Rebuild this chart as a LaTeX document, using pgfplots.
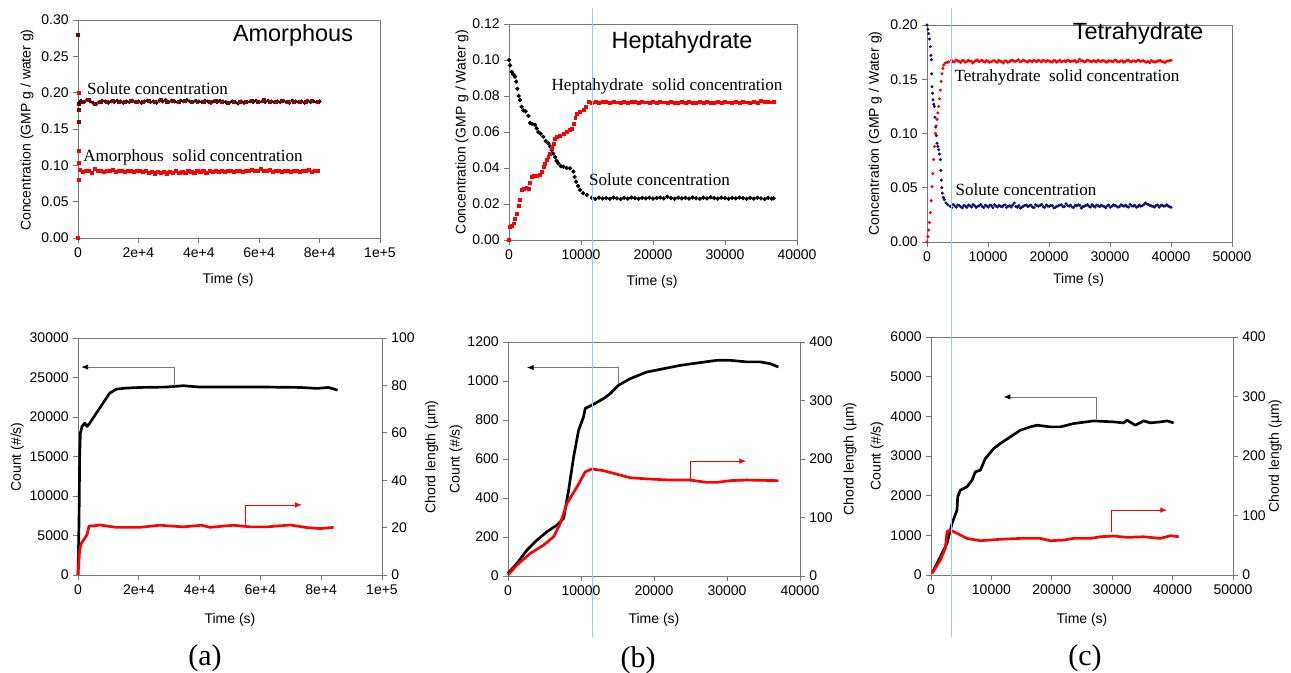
\documentclass[border=0pt]{standalone}
\usepackage{fontspec}
\setmainfont{Liberation Sans}
\newfontfamily\serifont{Liberation Serif}
\usepackage{pgfplots}
\pgfplotsset{compat=1.18}
\usetikzlibrary{arrows.meta}
\definecolor{axgray}{RGB}{120,120,120}
\definecolor{vblue}{RGB}{160,198,232}
\definecolor{navy}{RGB}{20,20,110}
\definecolor{dred}{RGB}{140,0,0}
\pgfplotsset{
  base/.style={
    scale only axis, anchor=south west, clip=false,
    axis line style={axgray, line width=0.6pt},
    tick style={axgray, line width=0.6pt},
    tick align=outside, major tick length=3.5pt,
    ticklabel style={font=\fontsize{10.5}{12}\selectfont},
    label style={font=\fontsize{10.5}{12}\selectfont},
    /pgf/number format/assume math mode=true,
    /pgf/number format/set thousands separator={},
    scaled ticks=false,
  },
  y2dec/.style={y tick label style={/pgf/number format/fixed,/pgf/number format/fixed zerofill,/pgf/number format/precision=2}},
}
\begin{document}
\begin{tikzpicture}
\useasboundingbox (0,0) rectangle (968.25pt,504.75pt);
% ---------------- (a) top ----------------
\begin{axis}[base, y2dec, at={(58.5pt,326.25pt)}, width=226.5pt, height=163.5pt, tick pos=left,
  xmin=0,xmax=100000, ymin=0,ymax=0.30,
  xtick={0,20000,40000,60000,80000,100000}, xticklabels={0,2e+4,4e+4,6e+4,8e+4,1e+5},
  ytick={0,0.05,0.10,0.15,0.20,0.25,0.30},
  xlabel={Time (s)}, ylabel={Concentration (GMP g / water g)},
  xlabel style={at={(axis description cs:0.497,-0.193)},anchor=center},
  ylabel style={at={(axis description cs:-0.169,0.495)},anchor=center}]
\addplot[only marks, mark=square*, mark size=1.1pt, red] coordinates {(0,0.0)(200,0.08)(300,0.104)(100,0.12)(300,0.20)};
\addplot[only marks, mark=square*, mark size=1.1pt, dred] coordinates {(0,0.28)(200,0.185)(300,0.177)(400,0.16)};
\addplot[only marks, mark=*, mark size=1.3pt, black] coordinates {
(500,0.186)(1000,0.189)(2000,0.187)(3000,0.190)(4000,0.188)(5000,0.186)(6000,0.184)(7000,0.187)(8000,0.189)(9000,0.188)(10000,0.186)
(11000,0.188)(12000,0.187)(13000,0.189)(14000,0.188)(15000,0.186)(16000,0.188)(17000,0.187)(18000,0.189)(19000,0.187)(20000,0.188)
(21000,0.186)(22000,0.188)(23000,0.189)(24000,0.187)(25000,0.188)(26000,0.186)(27000,0.189)(28000,0.188)(29000,0.190)(30000,0.187)
(31000,0.189)(32000,0.188)(33000,0.187)(34000,0.189)(35000,0.188)(36000,0.190)(37000,0.188)(38000,0.187)(39000,0.189)(40000,0.188)
(41000,0.187)(42000,0.189)(43000,0.188)(44000,0.186)(45000,0.188)(46000,0.187)(47000,0.189)(48000,0.188)(49000,0.187)(50000,0.186)
(51000,0.188)(52000,0.187)(53000,0.185)(54000,0.188)(55000,0.186)(56000,0.187)(57000,0.188)(58000,0.187)(59000,0.189)(60000,0.187)
(61000,0.188)(62000,0.187)(63000,0.189)(64000,0.188)(65000,0.187)(66000,0.188)(67000,0.187)(68000,0.189)(69000,0.187)(70000,0.186)
(71000,0.189)(72000,0.188)(73000,0.187)(74000,0.188)(75000,0.186)(76000,0.189)(77000,0.187)(78000,0.188)(79000,0.187)(80000,0.188)};
\addplot[only marks, mark=square*, mark size=1.1pt, dred] coordinates {
(1500,0.188)(3500,0.190)(5500,0.185)(7500,0.188)(9500,0.187)(11500,0.189)(13500,0.188)(15500,0.187)(17500,0.189)(19500,0.188)
(21500,0.187)(23500,0.189)(25500,0.188)(27500,0.190)(29500,0.188)(31500,0.189)(33500,0.187)(35500,0.189)(37500,0.188)(39500,0.187)
(41500,0.188)(43500,0.187)(45500,0.189)(47500,0.188)(49500,0.186)(51500,0.188)(53500,0.187)(55500,0.188)(57500,0.189)(59500,0.187)
(61500,0.190)(63500,0.188)(65500,0.187)(67500,0.189)(69500,0.188)(71500,0.187)(73500,0.188)(75500,0.187)(77500,0.189)(79500,0.187)};
\addplot[only marks, mark=square*, mark size=1.2pt, red] coordinates {
(500,0.094)(1500,0.091)(2500,0.093)(3500,0.092)(4500,0.090)(5500,0.095)(6500,0.093)(7500,0.092)(8500,0.091)(9500,0.093)
(10500,0.092)(11500,0.094)(12500,0.091)(13500,0.092)(14500,0.093)(15500,0.091)(16500,0.092)(17500,0.093)(18500,0.091)(19500,0.092)
(20500,0.093)(21500,0.091)(22500,0.092)(23500,0.090)(24500,0.091)(25500,0.089)(26500,0.091)(27500,0.090)(28500,0.091)(29500,0.089)
(30500,0.091)(31500,0.090)(32500,0.092)(33500,0.090)(34500,0.091)(35500,0.090)(36500,0.092)(37500,0.091)(38500,0.090)(39500,0.092)
(40500,0.091)(41500,0.092)(42500,0.090)(43500,0.092)(44500,0.091)(45500,0.093)(46500,0.091)(47500,0.092)(48500,0.091)(49500,0.093)
(50500,0.092)(51500,0.091)(52500,0.093)(53500,0.092)(54500,0.091)(55500,0.093)(56500,0.092)(57500,0.094)(58500,0.092)(59500,0.093)
(60500,0.095)(61500,0.093)(62500,0.092)(63500,0.094)(64500,0.091)(65500,0.093)(66500,0.092)(67500,0.091)(68500,0.093)(69500,0.092)
(70500,0.091)(71500,0.093)(72500,0.092)(73500,0.091)(74500,0.093)(75500,0.092)(76500,0.094)(77500,0.091)(78500,0.093)(79500,0.092)};
\end{axis}
% ---------------- (b) top ----------------
\begin{axis}[base, y2dec, at={(381.75pt,324.75pt)}, width=216pt, height=162pt, tick pos=left,
  xmin=0,xmax=40000, ymin=0,ymax=0.12,
  xtick={0,10000,20000,30000,40000},
  ytick={0,0.02,0.04,0.06,0.08,0.10,0.12},
  xlabel={Time (s)}, ylabel={Concentration (GMP g / Water g)},
  xlabel style={at={(axis description cs:0.497,-0.194)},anchor=center},
  ylabel style={at={(axis description cs:-0.163,0.5)},anchor=center}]
\addplot[only marks, mark=*, mark size=1.4pt, black] coordinates {
(0,0.100)(150,0.097)(370,0.0934)(600,0.092)(834,0.0907)(1000,0.088)(1160,0.084)(1350,0.080)(1530,0.0777)(1750,0.074)(2000,0.072)
(2300,0.0715)(2690,0.069)(2920,0.065)(3200,0.0645)(3615,0.064)(3850,0.062)(4080,0.060)(4400,0.059)(4770,0.0573)(5100,0.055)
(5470,0.0537)(5700,0.052)(5930,0.050)(6150,0.048)(6400,0.046)(6600,0.044)(6860,0.0426)(7200,0.041)(7555,0.0407)(8000,0.040)
(8480,0.0398)(8945,0.038)(9100,0.035)(9320,0.0324)(9600,0.030)(9870,0.0278)(10300,0.026)(10800,0.025)(11500,0.0235)
(12000,0.0228)(12500,0.0235)(13000,0.0230)(13500,0.0233)(14000,0.0229)(14500,0.0236)(15000,0.0231)(15500,0.0228)(16000,0.0234)(16500,0.0230)
(17000,0.0236)(17500,0.0232)(18000,0.0229)(18500,0.0234)(19000,0.0231)(19500,0.0235)(20000,0.0230)(20500,0.0233)(21000,0.0236)(21500,0.0231)
(22000,0.0240)(22500,0.0233)(23000,0.0229)(23500,0.0235)(24000,0.0231)(24500,0.0234)(25000,0.0230)(25500,0.0236)(26000,0.0232)(26500,0.0229)
(27000,0.0235)(27500,0.0231)(28000,0.0237)(28500,0.0233)(29000,0.0230)(29500,0.0235)(30000,0.0232)(30500,0.0229)(31000,0.0234)(31500,0.0231)
(32000,0.0236)(32500,0.0232)(33000,0.0229)(33500,0.0234)(34000,0.0230)(34500,0.0235)(35000,0.0231)(35500,0.0228)(36000,0.0234)(36500,0.0230)(36750,0.0232)};
\addplot[only marks, mark=square*, mark size=1.1pt, red] coordinates {
(0,0)(140,0.0074)(350,0.008)(600,0.0093)(850,0.012)(1070,0.0148)(1300,0.019)(1530,0.0222)(1760,0.0278)(2100,0.0283)(2400,0.029)
(2690,0.0287)(2920,0.032)(3150,0.0352)(3500,0.0355)(3900,0.0358)(4310,0.036)(4550,0.038)(4770,0.0407)(5000,0.0425)(5240,0.0444)
(5450,0.046)(5700,0.048)(5950,0.051)(6170,0.0537)(6400,0.056)(6630,0.0574)(7100,0.058)(7555,0.0592)(8000,0.060)(8480,0.061)
(8700,0.062)(8945,0.0648)(9200,0.068)(9410,0.0703)(9800,0.071)(10340,0.0722)(10700,0.074)(11030,0.0768)
(11500,0.0762)(12000,0.0768)(12500,0.0764)(13000,0.0770)(13500,0.0766)(14000,0.0763)(14500,0.0769)(15000,0.0765)(15500,0.0761)(16000,0.0767)
(16500,0.0764)(17000,0.0770)(17500,0.0766)(18000,0.0762)(18500,0.0768)(19000,0.0765)(19500,0.0760)(20000,0.0767)(20500,0.0763)(21000,0.0769)
(21500,0.0765)(22000,0.0762)(22500,0.0768)(23000,0.0764)(23500,0.0760)(24000,0.0766)(24500,0.0763)(25000,0.0769)(25500,0.0764)(26000,0.0761)
(26500,0.0767)(27000,0.0763)(27500,0.0768)(28000,0.0764)(28500,0.0761)(29000,0.0766)(29500,0.0763)(30000,0.0769)(30500,0.0765)(31000,0.0762)
(31500,0.0767)(32000,0.0764)(32500,0.0770)(33000,0.0765)(33500,0.0762)(34000,0.0768)(34500,0.0764)(35000,0.0771)(35500,0.0766)(36000,0.0769)(36500,0.0765)(36750,0.0768)};
\end{axis}
% ---------------- (c) top ----------------
\begin{axis}[base, y2dec, at={(695.25pt,323.25pt)}, width=228.75pt, height=162.75pt, tick pos=left,
  xmin=0,xmax=50000, ymin=0,ymax=0.20,
  xtick={0,10000,20000,30000,40000,50000},
  ytick={0,0.05,0.10,0.15,0.20},
  xlabel={Time (s)}, ylabel={Concentration (GMP g / Water g)},
  xlabel style={at={(axis description cs:0.497,-0.175)},anchor=center},
  ylabel style={at={(axis description cs:-0.170,0.5)},anchor=center}]
\addplot[only marks, mark=*, mark size=0.95pt, navy] coordinates {
(0,0.200)(150,0.196)(270,0.192)(400,0.187)(546,0.180)(650,0.172)(710,0.168)(780,0.155)(820,0.143)(900,0.137)(980,0.131)
(1100,0.127)(1200,0.125)(1300,0.115)(1420,0.106)(1530,0.098)(1640,0.091)(1780,0.088)(1910,0.085)(2050,0.081)(2190,0.076)
(2270,0.066)(2350,0.057)(2430,0.050)(2510,0.045)(2650,0.041)(2840,0.039)(3100,0.036)(3390,0.0344)
(3800,0.0330)(4300,0.0345)(4800,0.0320)(5300,0.0335)(5800,0.0315)(6300,0.0330)(6800,0.0340)(7300,0.0322)(7800,0.0336)(8300,0.0328)
(8800,0.0345)(9300,0.0318)(9800,0.0332)(10300,0.0340)(10800,0.0316)(11300,0.0331)(11800,0.0338)(12300,0.0324)(12800,0.0342)(13300,0.0330)
(13800,0.0322)(14300,0.0360)(14800,0.0320)(15300,0.0312)(15800,0.0330)(16300,0.0341)(16800,0.0334)(17300,0.0322)(17800,0.0343)(18300,0.0330)
(18800,0.0346)(19300,0.0320)(19800,0.0331)(20300,0.0336)(20800,0.0314)(21300,0.0330)(21800,0.0340)(22300,0.0325)(22800,0.0352)(23300,0.0330)
(23800,0.0321)(24300,0.0337)(24800,0.0342)(25300,0.0312)(25800,0.0330)(26300,0.0345)(26800,0.0322)(27300,0.0331)(27800,0.0340)(28300,0.0326)
(28800,0.0332)(29300,0.0316)(29800,0.0340)(30300,0.0330)(30800,0.0336)(31300,0.0321)(31800,0.0342)(32300,0.0330)(32800,0.0325)(33300,0.0346)
(33800,0.0331)(34300,0.0320)(34800,0.0340)(35300,0.0335)(35800,0.0360)(36300,0.0345)(36800,0.0332)(37300,0.0322)(37800,0.0341)(38300,0.0335)
(38800,0.0330)(39300,0.0342)(39800,0.0325)(40000,0.0320)
(4050,0.0318)(4550,0.0333)(5050,0.0341)(5550,0.0324)(6050,0.0337)(6550,0.0319)(7050,0.0333)(7550,0.0344)(8050,0.0320)(8550,0.0334)
(9050,0.0327)(9550,0.0339)(10050,0.0321)(10550,0.0335)(11050,0.0344)(11550,0.0323)(12050,0.0330)(12550,0.0337)(13050,0.0318)(13550,0.0334)
(14050,0.0341)(14550,0.0328)(15050,0.0335)(15550,0.0321)(16050,0.0337)(16550,0.0326)(17050,0.0340)(17550,0.0317)(18050,0.0333)(18550,0.0338)
(19050,0.0324)(19550,0.0342)(20050,0.0329)(20550,0.0336)(21050,0.0320)(21550,0.0334)(22050,0.0343)(22550,0.0327)(23050,0.0335)(23550,0.0340)
(24050,0.0319)(24550,0.0333)(25050,0.0338)(25550,0.0325)(26050,0.0336)(26550,0.0330)(27050,0.0344)(27550,0.0321)(28050,0.0334)(28550,0.0339)
(29050,0.0327)(29550,0.0335)(30050,0.0320)(30550,0.0342)(31050,0.0331)(31550,0.0326)(32050,0.0337)(32550,0.0340)(33050,0.0322)(33550,0.0333)
(34050,0.0338)(34550,0.0326)(35050,0.0330)(35550,0.0344)(36050,0.0350)(36550,0.0337)(37050,0.0328)(37550,0.0336)(38050,0.0321)(38550,0.0340)(39050,0.0333)(39550,0.0330)};
\addplot[only marks, mark=*, mark size=0.95pt, red] coordinates {
(0,0)(150,0.005)(270,0.011)(400,0.018)(546,0.027)(680,0.038)(820,0.051)(950,0.063)(1090,0.076)(1230,0.088)(1370,0.100)(1500,0.107)
(1640,0.113)(1780,0.119)(1910,0.125)(2050,0.132)(2190,0.140)(2320,0.148)(2460,0.155)(2600,0.160)(2730,0.163)(3000,0.165)(3300,0.1655)(3550,0.166)
(4000,0.1675)(4500,0.1660)(5000,0.1670)(5500,0.1655)(6000,0.1672)(6500,0.1663)(7000,0.1668)(7500,0.1650)(8000,0.1670)(8500,0.1662)
(9000,0.1676)(9500,0.1658)(10000,0.1667)(10500,0.1660)(11000,0.1672)(11500,0.1655)(12000,0.1665)(12500,0.1650)(13000,0.1668)(13500,0.1660)
(14000,0.1675)(14500,0.1663)(15000,0.1680)(15500,0.1666)(16000,0.1670)(16500,0.1658)(17000,0.1668)(17500,0.1675)(18000,0.1662)(18500,0.1670)
(19000,0.1676)(19500,0.1663)(20000,0.1668)(20500,0.1658)(21000,0.1672)(21500,0.1665)(22000,0.1660)(22500,0.1670)(23000,0.1676)(23500,0.1662)
(24000,0.1668)(24500,0.1658)(25000,0.1685)(25500,0.1670)(26000,0.1663)(26500,0.1672)(27000,0.1660)(27500,0.1668)(28000,0.1675)(28500,0.1662)
(29000,0.1670)(29500,0.1657)(30000,0.1668)(30500,0.1662)(31000,0.1674)(31500,0.1660)(32000,0.1670)(32500,0.1664)(33000,0.1676)(33500,0.1660)
(34000,0.1668)(34500,0.1672)(35000,0.1663)(35500,0.1670)(36000,0.1658)(36500,0.1652)(37000,0.1666)(37500,0.1660)(38000,0.1670)(38500,0.1662)
(39000,0.1655)(39500,0.1668)(40000,0.1674)
(4250,0.1662)(4750,0.1678)(5250,0.1665)(5750,0.1671)(6250,0.1657)(6750,0.1674)(7250,0.1666)(7750,0.1661)(8250,0.1677)(8750,0.1669)
(9250,0.1663)(9750,0.1672)(10250,0.1656)(10750,0.1668)(11250,0.1664)(11750,0.1675)(12250,0.1661)(12750,0.1669)(13250,0.1657)(13750,0.1673)
(14250,0.1667)(14750,0.1671)(15250,0.1660)(15750,0.1676)(16250,0.1664)(16750,0.1670)(17250,0.1661)(17750,0.1668)(18250,0.1674)(18750,0.1659)
(19250,0.1669)(19750,0.1673)(20250,0.1662)(20750,0.1670)(21250,0.1658)(21750,0.1675)(22250,0.1666)(22750,0.1661)(23250,0.1671)(23750,0.1667)
(24250,0.1674)(24750,0.1663)(25250,0.1670)(25750,0.1660)(26250,0.1676)(26750,0.1665)(27250,0.1671)(27750,0.1659)(28250,0.1668)(28750,0.1673)
(29250,0.1662)(29750,0.1670)(30250,0.1666)(30750,0.1675)(31250,0.1661)(31750,0.1669)(32250,0.1657)(32750,0.1672)(33250,0.1665)(33750,0.1670)
(34250,0.1663)(34750,0.1676)(35250,0.1668)(35750,0.1661)(36250,0.1664)(36750,0.1672)(37250,0.1659)(37750,0.1667)(38250,0.1673)(38750,0.1660)(39250,0.1666)(39750,0.1671)};
\end{axis}
% ---------------- (a) bottom ----------------
\begin{axis}[base, at={(58.5pt,73.5pt)}, width=228pt, height=177.75pt, tick pos=left,
  xmin=0,xmax=100000, ymin=0,ymax=30000,
  xtick={0,20000,40000,60000,80000,100000}, xticklabels={0,2e+4,4e+4,6e+4,8e+4,1e+5},
  ytick={0,5000,10000,15000,20000,25000,30000},
  xlabel={Time (s)}, ylabel={Count (\#/s)},
  xlabel style={at={(axis description cs:0.5,-0.19)},anchor=center},
  ylabel style={at={(axis description cs:-0.2,0.498)},anchor=center}]
\addplot[black, line width=2pt, line join=round] coordinates {
(0,0)(330,6550)(550,15000)(770,17950)(1320,18800)(2200,19220)(2970,18800)(3850,19220)(6040,20490)(8240,21760)(10440,23030)
(12640,23530)(15940,23660)(20330,23740)(29120,23790)(34620,23960)(40110,23790)(51100,23790)(62090,23790)(73080,23740)(78580,23620)(82420,23740)(85390,23400)};
\draw[axgray, line width=0.5pt, -{Latex[black,length=5pt,width=4pt]}] (axis cs:31650,23870) -- (axis cs:31650,26320) -- (axis cs:1100,26320);
\draw[red, line width=0.5pt, -{Latex[red,length=5pt,width=4pt]}] (axis cs:55170,6210) -- (axis cs:55170,8870) -- (axis cs:73630,8870);
\end{axis}
\begin{axis}[base, at={(58.5pt,73.5pt)}, width=228pt, height=177.75pt,
  axis y line*=right, axis x line=none,
  xmin=0,xmax=100000, ymin=0,ymax=100, ytick={0,20,40,60,80,100},
  ylabel={Chord length (µm)},
  ylabel style={at={(axis description cs:1.164,0.498)},anchor=center}]
\addplot[red, line width=2pt, line join=round] coordinates {
(0,0)(550,10.6)(1100,13.4)(2200,15.5)(2970,16.9)(3630,20.7)(4950,20.7)(7140,21.1)(12640,20.1)(20330,20.1)(26920,21.0)(34620,20.3)
(40660,21.0)(43410,20.1)(51100,21.0)(56600,20.3)(62090,20.3)(69790,21.1)(75280,20.0)(79680,19.6)(84070,20.1)};
\end{axis}
% ---------------- (b) bottom ----------------
\begin{axis}[base, at={(381pt,72.75pt)}, width=219pt, height=175.5pt, tick pos=left,
  xmin=0,xmax=40000, ymin=0,ymax=1200,
  xtick={0,10000,20000,30000,40000},
  ytick={0,200,400,600,800,1000,1200},
  xlabel={Time (s)}, ylabel={Count (\#/s)},
  xlabel style={at={(axis description cs:0.5,-0.188)},anchor=center},
  ylabel style={at={(axis description cs:-0.178,0.5)},anchor=center}]
\addplot[black, line width=2pt, line join=round] coordinates {
(0,13.7)(1230,65)(2600,133)(3970,184)(5340,227)(6700,261)(7620,295)(8300,440)(8990,611)(9670,748)(10350,816)(10580,859)
(11490,876)(13090,910)(14000,935)(15140,978)(16740,1012)(19020,1046)(21300,1063)(23580,1080)(25860,1092)(28600,1106)(30420,1106)
(32700,1098)(34530,1098)(35900,1089)(37030,1072)};
\draw[axgray, line width=0.5pt, -{Latex[black,length=5pt,width=4pt]}] (axis cs:15050,987) -- (axis cs:15050,1069) -- (axis cs:2600,1069);
\draw[red, line width=0.5pt, -{Latex[red,length=5pt,width=4pt]}] (axis cs:24950,483) -- (axis cs:24950,589) -- (axis cs:32610,589);
\end{axis}
\begin{axis}[base, at={(381pt,72.75pt)}, width=219pt, height=175.5pt,
  axis y line*=right, axis x line=none,
  xmin=0,xmax=40000, ymin=0,ymax=400, ytick={0,100,200,300,400},
  ylabel={Chord length (µm)},
  ylabel style={at={(axis description cs:1.171,0.5)},anchor=center}]
\addplot[red, line width=2pt, line join=round] coordinates {
(0,1.7)(1230,18.8)(3060,38.7)(4880,52.9)(6250,67.1)(7160,89.9)(8070,124)(9440,152)(10580,178)(11490,183)(13090,180)(14910,174)
(16740,168)(19020,166)(22210,164)(24950,164)(27230,160)(28600,160)(30420,163)(32700,164)(37030,163)};
\end{axis}
% ---------------- (c) bottom ----------------
\begin{axis}[base, at={(698.25pt,73.5pt)}, width=226.5pt, height=178.5pt, tick pos=left,
  xmin=0,xmax=50000, ymin=0,ymax=6000,
  xtick={0,10000,20000,30000,40000,50000},
  ytick={0,1000,2000,3000,4000,5000,6000},
  xlabel={Time (s)}, ylabel={Count (\#/s)},
  xlabel style={at={(axis description cs:0.5,-0.19)},anchor=center},
  ylabel style={at={(axis description cs:-0.179,0.5)},anchor=center}]
\addplot[black, line width=2pt, line join=round] coordinates {
(166,42)(1545,462)(2650,797)(3480,1300)(4300,1636)(4420,1972)(4860,2140)(5960,2224)(6790,2392)(7340,2601)(8170,2643)(9000,2937)
(10380,3189)(11480,3315)(13140,3483)(14790,3650)(16450,3734)(17550,3776)(19760,3734)(21410,3734)(23620,3818)(26930,3885)(30240,3860)
(31900,3835)(32450,3902)(33830,3776)(35210,3885)(36310,3835)(37970,3860)(39070,3885)(40180,3835)};
\draw[axgray, line width=0.5pt, -{Latex[black,length=5pt,width=4pt]}] (axis cs:27320,3944) -- (axis cs:27320,4490) -- (axis cs:12030,4490);
\draw[red, line width=0.5pt, -{Latex[red,length=5pt,width=4pt]}] (axis cs:29800,1091) -- (axis cs:29800,1636) -- (axis cs:39070,1636);
\end{axis}
\begin{axis}[base, at={(698.25pt,73.5pt)}, width=226.5pt, height=178.5pt,
  axis y line*=right, axis x line=none,
  xmin=0,xmax=50000, ymin=0,ymax=400, ytick={0,100,200,300,400},
  ylabel={Chord length (µm)},
  ylabel style={at={(axis description cs:1.14,0.5)},anchor=center}]
\addplot[red, line width=2pt, line join=round] coordinates {
(166,2.8)(1545,25)(2370,45)(2650,73)(3200,75.5)(4300,70)(5960,61.5)(8170,57.6)(11480,60)(14790,61.5)(18100,61.5)(19760,57.6)
(21970,58.7)(23620,61.5)(26380,61.5)(28040,64.3)(30240,65.5)(32450,63.2)(35210,64.3)(37970,61.5)(39630,66)(41010,64.3)};
\end{axis}
% ---------------- annotations ----------------
\draw[vblue, line width=0.7pt] (444pt,498.75pt) -- (444pt,27pt);
\draw[vblue, line width=0.7pt] (713.25pt,498.75pt) -- (713.25pt,27pt);
\node[font=\fontsize{17.6}{20}\selectfont] at (219.75pt,478.5pt) {Amorphous};
\node[font=\fontsize{17.6}{20}\selectfont] at (511.5pt,473.25pt) {Heptahydrate};
\node[font=\fontsize{17.6}{20}\selectfont] at (853.5pt,480pt) {Tetrahydrate};
\node[font=\serifont\fontsize{12.8}{14}\selectfont] at (118.1pt,438pt) {Solute concentration};
\node[font=\serifont\fontsize{12.8}{14}\selectfont] at (144.75pt,387pt) {Amorphous\ \ solid concentration};
\node[font=\serifont\fontsize{12.8}{14}\selectfont] at (500.25pt,440.25pt) {Heptahydrate\ \ solid concentration};
\node[font=\serifont\fontsize{12.8}{14}\selectfont] at (494.6pt,369.75pt) {Solute concentration};
\node[font=\serifont\fontsize{12.8}{14}\selectfont] at (800.25pt,447pt) {Tetrahydrate\ \ solid concentration};
\node[font=\serifont\fontsize{12.8}{14}\selectfont] at (769.5pt,362.25pt) {Solute concentration};
\node[font=\serifont\fontsize{22.5}{25}\selectfont] at (153.75pt,11.25pt) {(a)};
\node[font=\serifont\fontsize{22.5}{25}\selectfont] at (478.5pt,9.75pt) {(b)};
\node[font=\serifont\fontsize{22.5}{25}\selectfont] at (813.75pt,11.25pt) {(c)};
\end{tikzpicture}
\end{document}
